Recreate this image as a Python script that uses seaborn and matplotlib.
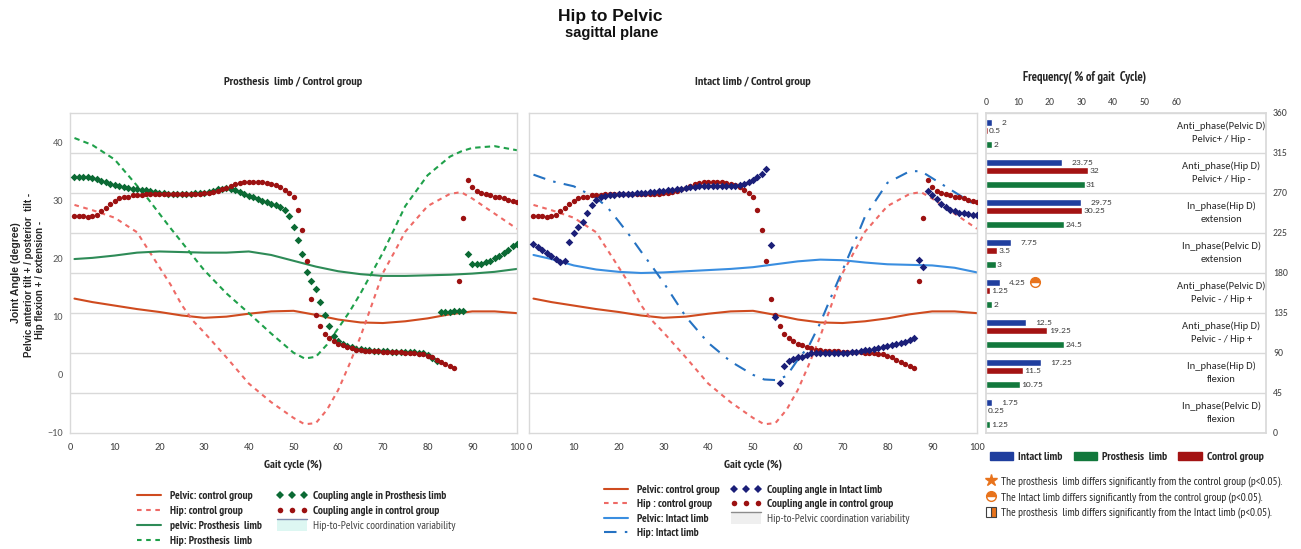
import numpy as np
import matplotlib
matplotlib.use("Agg")
import matplotlib.pyplot as plt
from matplotlib import font_manager
from matplotlib.lines import Line2D
from matplotlib.patches import Patch, Rectangle
from matplotlib.legend_handler import HandlerPatch
from matplotlib.ticker import FixedLocator
import seaborn as sns

# ---------------- data ----------------
# joint angles (degree) vs gait cycle (%)
pelvic_x = [1, 5, 10, 15, 20, 25, 30, 35, 40, 45, 50, 55, 60, 65, 70, 75, 80, 85, 90, 95, 100]
pelvic_control = [13.1, 12.5, 11.9, 11.3, 10.8, 10.2, 9.8, 10.0, 10.5, 10.9, 11.0, 10.3, 9.5, 9.0,
                  8.9, 9.2, 9.7, 10.4, 10.9, 10.9, 10.6]
pelvic_prosthesis = [19.9, 20.1, 20.5, 21.0, 21.2, 21.1, 21.0, 21.0, 21.2, 20.6, 19.6, 18.6, 17.8, 17.3,
                     17.0, 17.0, 17.1, 17.2, 17.4, 17.7, 18.2]
pelvic_intact = [20.6, 19.9, 18.8, 18.1, 17.7, 17.5, 17.6, 17.8, 18.0, 18.2, 18.5, 19.0, 19.5, 19.8,
                 19.7, 19.3, 19.0, 18.9, 18.8, 18.4, 17.6]

hip_x = [1, 5, 10, 15, 17.5, 20, 22.5, 25, 27.5, 30, 35, 40, 45, 50, 52.5, 55, 57.5, 60, 62.5, 65,
         67.5, 70, 72.5, 75, 80, 85, 87.5, 90, 95, 100]
hip_control = [29.2, 28.3, 27.0, 24.5, 21.5, 18.5, 15.5, 12.0, 9.3, 7.3, 3.0, -1.5, -4.7, -7.4, -8.5,
               -8.3, -6.0, -2.6, 1.8, 6.6, 12.0, 17.5, 21.0, 24.6, 29.0, 31.1, 31.4, 30.3, 27.7, 25.1]
hip_prosthesis = [40.7, 39.5, 37.0, 32.5, 30.2, 27.7, 25.2, 22.8, 20.4, 18.0, 14.0, 10.6, 7.1, 3.8, 2.8,
                  3.1, 5.2, 8.0, 10.8, 14.0, 17.5, 21.0, 25.0, 29.0, 34.3, 37.5, 38.4, 39.0, 39.3, 38.6]
hip_intact = [34.4, 33.3, 32.4, 30.4, 28.8, 26.4, 23.9, 21.2, 18.6, 15.9, 10.0, 5.5, 2.3, 0.0, -0.8,
              -0.9, -0.2, 2.6, 5.0, 8.9, 13.5, 18.0, 22.5, 27.2, 33.0, 35.0, 35.0, 33.8, 31.4, 29.0]

# coupling angles (0-360 deg), one value per % of gait cycle
cycle_pct = list(range(1, 101))
coupling_control = [
    244.5, 244.5, 244, 243.4, 244, 245.6, 249.4, 253, 258, 261.4,
    264, 265.5, 266, 267.4, 267.8, 268, 268.5, 268.6, 268.6, 268.6,
    268.6, 268.6, 268.6, 268.6, 268.6, 268.6, 268.8, 269, 269.3, 269.6,
    270, 271, 272.6, 274.5, 276, 278, 280, 281, 282, 282.4,
    282.8, 282.4, 282, 281, 280, 278.6, 276.4, 273.8, 270, 265,
    250.5, 228.8, 193.5, 150.8, 133, 120.8, 111.8, 107, 103, 100.5,
    98.6, 96.8, 95.3, 93.8, 93, 92.6, 92.3, 92, 91.8, 91.6,
    91.4, 91.2, 91, 90.8, 90.5, 90.2, 90, 89, 88.5, 87,
    85, 82.5, 80, 77.6, 75, 73, 170.6, 241.9, 285, 276.4,
    272.6, 270, 268.5, 267.4, 266, 265, 264, 262.5, 261.4, 260]
coupling_prosthesis = [
    288, 288, 288, 288, 287, 286, 284, 282, 280.5, 279.4,
    278, 277, 276, 275, 274.5, 273.8, 273, 272, 271, 270,
    269.5, 269, 269, 269, 269, 269, 269, 269.5, 270, 270.5,
    271, 272.5, 274, 275, 275.6, 275, 273.5, 271.5, 269, 267,
    265, 263, 261, 259.5, 258, 256.5, 254.6, 250.5, 243.8, 231.8,
    216.8, 201, 181.5, 171, 161.6, 147, 133, 120.8, 109.5, 104,
    100, 98, 96.5, 95, 94, 93.5, 93, 92.5, 92.2, 92,
    91.8, 91.6, 91.4, 91.2, 91, 90.8, 90.6, 90.3, 90, 88,
    84, 80.5, 136.5, 136.5, 136.5, 136.8, 137, 137, 201.8, 190.5,
    190.5, 190.5, 192, 194, 196.5, 199.5, 203, 206, 210, 213]
coupling_intact = [
    212.6, 209, 206, 203, 199, 195.8, 192.8, 194, 215, 225,
    231.4, 237.4, 247.5, 256.5, 261.8, 265, 266.6, 267.8, 268.2, 268.5,
    268.8, 269.1, 269.4, 269.7, 270, 270.5, 271, 271.5, 272, 272.6,
    273.2, 273.8, 274.4, 275, 275.6, 276.2, 276.8, 277.4, 278, 277.5,
    277.5, 277.5, 277.5, 277.5, 277.5, 278, 278.6, 280.5, 282, 285,
    288, 291, 297, 211.5, 130.5, 56, 75, 80.6, 83.6, 85.5,
    86, 88, 89.5, 90.5, 90.5, 90.5, 90.3, 90, 90, 90,
    90.2, 90.8, 91.5, 92.2, 93, 93.8, 94.5, 95.3, 96.4, 97.5,
    98.8, 100, 101, 102, 105, 107, 195, 186.8, 272.6, 268,
    263, 258, 254, 251, 249.4, 248, 247, 246.4, 245, 245]

# frequency (% of gait cycle) per coordination pattern, top to bottom (360 -> 0)
phase_labels = ["Anti_phase(Pelvic D)\nPelvic+ / Hip -", "Anti_phase(Hip D)\nPelvic+ / Hip -",
                "In_phase(Hip D)\nextension", "In_phase(Pelvic D)\nextension",
                "Anti_phase(Pelvic D)\nPelvic - / Hip +", "Anti_phase(Hip D)\nPelvic - / Hip +",
                "In_phase(Hip D)\nflexion", "In_phase(Pelvic D)\nflexion"]
freq_intact = [2, 23.75, 29.75, 7.75, 4.25, 12.5, 17.25, 1.75]
freq_control = [0.5, 32, 30.25, 3.5, 1.25, 19.25, 11.5, 0.25]
freq_prosthesis = [2, 31, 24.5, 3, 2, 24.5, 10.75, 1.25]
sig_intact_vs_control = [4]   # pattern marked with the half circle

# ---------------- style ----------------
C_PELVIC_CTRL = "#CF4B1F"
C_HIP_CTRL = "#EE6A66"
C_PELVIC_PROS = "#2E8B57"
C_HIP_PROS = "#1FA04A"
C_PELVIC_INT = "#3A8EE0"
C_HIP_INT = "#2572C2"
C_DOT_CTRL = "#9C1111"
C_DOT_PROS = "#0B6A34"
C_DOT_INT = "#1B1F78"
C_BAR_INT = "#1F3E9E"
C_BAR_CTRL = "#A31313"
C_BAR_PROS = "#12783C"
C_SIG = "#E8731C"
GRID = "#d9d9d9"
TXT = "#262626"

available = {f.name for f in font_manager.fontManager.ttflist}


def pick(*names):
    return next((n for n in names if n in available), 'DejaVu Sans')


COND = pick('PT Sans Narrow', 'Fira Sans Condensed', 'Archivo Narrow', 'Roboto Condensed',
            'Liberation Sans')
BODY = pick('Carlito', 'Liberation Sans')
ARIAL = pick('Liberation Sans', 'Arimo')

sns.set_theme(style="white")
plt.rcParams['font.family'] = [BODY, 'DejaVu Sans']
CF = [COND, 'DejaVu Sans']
AF = [ARIAL, 'DejaVu Sans']

W, H = 1301, 549
fig = plt.figure(figsize=(W / 100, H / 100), dpi=100)


def box(l, t, r, b):
    return [l / W, 1 - b / H, (r - l) / W, (b - t) / H]


def gait_panel(rect, title, show_y):
    ax = fig.add_axes(rect)
    ax.set_xlim(0, 100)
    ax.set_ylim(-10, 45)
    ax.set_xticks(range(0, 101, 10))
    ax.set_yticks(range(-10, 41, 10))
    # grid follows the 45-degree steps of the coupling-angle axis
    ax.yaxis.set_minor_locator(FixedLocator(np.linspace(-10, 45, 9)[1:-1]))
    ax.grid(False)
    ax.grid(True, which='minor', axis='y', color=GRID, lw=1)
    ax.tick_params(axis='y', which='both', length=0, labelsize=7.5, labelcolor='#595959', pad=5,
                   labelleft=show_y)
    ax.tick_params(axis='x', length=3, direction='in', color='#bfbfbf', labelsize=7.5,
                   labelcolor='#404040', pad=7)
    for s in ax.spines.values():
        s.set_color(GRID)
        s.set_linewidth(1)
    ax.set_xlabel('Gait cycle (%)', fontsize=8.6, fontweight='bold', color=TXT, labelpad=5,
                  family=CF)
    ax.set_ylabel('')
    fig.text((rect[0] + rect[2] / 2), 1 - 82 / H, title, ha='center', va='center',
             fontsize=8.8, fontweight='bold', color=TXT, family=CF)
    ax2 = ax.twinx()
    ax2.set_ylim(0, 360)
    ax2.set_yticks([])
    for s in ax2.spines.values():
        s.set_visible(False)
    return ax, ax2


def lines(ax, x, y, color, ls):
    sns.lineplot(x=x, y=y, ax=ax, color=color, linestyle=ls, lw=1.5)


def dots(ax, y, color, marker):
    sns.scatterplot(x=cycle_pct, y=y, ax=ax, color=color, marker=marker, s=15,
                    linewidth=0, zorder=3)


DASH = (0, (2.2, 2.2))
DASHDOT = (0, (6, 4, 1.2, 4))

# ---- left panel: prosthesis limb ----
ax_l, ax_l2 = gait_panel(box(70, 113, 517, 433), 'Prosthesis  limb / Control group', True)
lines(ax_l, pelvic_x, pelvic_control, C_PELVIC_CTRL, '-')
lines(ax_l, hip_x, hip_control, C_HIP_CTRL, DASH)
lines(ax_l, pelvic_x, pelvic_prosthesis, C_PELVIC_PROS, '-')
lines(ax_l, hip_x, hip_prosthesis, C_HIP_PROS, (0, (2.6, 2)))
dots(ax_l2, coupling_prosthesis, C_DOT_PROS, 'D')
dots(ax_l2, coupling_control, C_DOT_CTRL, 'o')

# ---- middle panel: intact limb ----
ax_m, ax_m2 = gait_panel(box(529, 113, 977, 433), 'Intact limb / Control group', False)
lines(ax_m, pelvic_x, pelvic_control, C_PELVIC_CTRL, '-')
lines(ax_m, hip_x, hip_control, C_HIP_CTRL, DASH)
lines(ax_m, pelvic_x, pelvic_intact, C_PELVIC_INT, '-')
lines(ax_m, hip_x, hip_intact, C_HIP_INT, DASHDOT)
dots(ax_m2, coupling_control, C_DOT_CTRL, 'o')
dots(ax_m2, coupling_intact, C_DOT_INT, 'D')

# y label of left panel
fig.text(16 / W, 1 - 273 / H, 'Joint Angle (degree)', rotation=90, ha='center', va='center',
         fontsize=7.6, fontweight='bold', color=TXT, family=AF)
fig.text(29 / W, 1 - 275 / H, 'Pelvic anterior tilt + / posterior  tilt -', rotation=90,
         ha='center', va='center', fontsize=7, fontweight='bold', color=TXT, family=AF)
fig.text(40 / W, 1 - 280 / H, 'Hip flexion + / extension -', rotation=90,
         ha='center', va='center', fontsize=7, fontweight='bold', color=TXT, family=AF)

# ---- right panel: frequency bars ----
ax_b = fig.add_axes(box(986, 113, 1266, 433))
ax_b.set_xlim(0, 88)
ax_b.set_ylim(0, 360)
band = 45
tops = [360 - band * i for i in range(len(phase_labels))]
bar_h = 7.5
y_int = [t - 10.5 for t in tops]
y_ctrl = [t - 19.9 for t in tops]
y_pros = [t - 35.6 for t in tops]
b1 = ax_b.barh(y_int, freq_intact, height=bar_h, color=C_BAR_INT)
b2 = ax_b.barh(y_ctrl, freq_control, height=bar_h, color=C_BAR_CTRL)
b3 = ax_b.barh(y_pros, freq_prosthesis, height=bar_h, color=C_BAR_PROS)
fmt = lambda v: f"{v:g}"
ax_b.bar_label(b1, labels=[fmt(v) for v in freq_intact], padding=7, fontsize=6.8, color='#404040')
ax_b.bar_label(b2, labels=[fmt(v) for v in freq_control], padding=1, fontsize=6.8, color='#404040')
ax_b.bar_label(b3, labels=[fmt(v) for v in freq_prosthesis], padding=1, fontsize=6.8,
               color='#404040')
for i in sig_intact_vs_control:
    ax_b.plot(freq_intact[i] + 11, y_int[i], marker='o', fillstyle='top', ms=7,
              markerfacecolor=C_SIG, markerfacecoloralt='white', markeredgecolor=C_SIG, mew=1)
for t, lab in zip(tops, phase_labels):
    ax_b.text(74, t - band / 2, lab, ha='center', va='center', fontsize=7.6,
              color=TXT, linespacing=1.6)

ax_b.xaxis.tick_top()
ax_b.set_xticks(range(0, 61, 10))
ax_b.xaxis.set_minor_locator(FixedLocator([40, 60]))
ax_b.yaxis.tick_right()
ax_b.set_yticks(range(0, 361, 45))
ax_b.grid(False)
ax_b.grid(True, axis='y', which='major', color=GRID, lw=1)
ax_b.grid(True, axis='x', which='minor', color=GRID, lw=1)
ax_b.tick_params(axis='both', which='both', length=0, labelsize=7, labelcolor='#404040')
ax_b.tick_params(axis='x', pad=4)
ax_b.tick_params(axis='y', pad=5)
for s in ax_b.spines.values():
    s.set_color(GRID)
fig.text(1085 / W, 1 - 78 / H, 'Frequency( % of gait  Cycle)', ha='center', va='center',
         fontsize=9, fontweight='bold', color=TXT, family=CF)

# ---- titles ----
fig.text(610 / W, 1 - 16 / H, 'Hip to Pelvic', ha='center', va='center', fontsize=12.5,
         fontweight='bold', color='#111111', family=AF)
fig.text(612 / W, 1 - 33 / H, 'sagittal plane', ha='center', va='center', fontsize=10.5,
         fontweight='bold', color='#111111', family=AF)


# ---- legends ----
class TopLinePatch(HandlerPatch):
    # filled box with a thin line along its top edge (variability band key)
    def create_artists(self, legend, orig, xd, yd, w, h, fs, trans):
        y0, hh = -yd - 0.25 * h, 1.45 * h
        rect = Rectangle((-xd, y0), w, hh, facecolor=orig.get_facecolor(), edgecolor='none',
                         transform=trans)
        top = Line2D([-xd, -xd + w], [y0 + hh, y0 + hh], color=orig.get_edgecolor(), lw=1,
                     transform=trans)
        return [rect, top]


leg_kw = dict(loc='upper left', frameon=False, prop={'family': CF, 'size': 8.1},
              handlelength=2.7, handletextpad=0.5, borderpad=0, borderaxespad=0, numpoints=3,
              handler_map={Patch: TopLinePatch()})


def add_legend(handles, labels, x, y, spacing, plain_last=False):
    leg = fig.legend(handles, labels, bbox_to_anchor=(x / W, 1 - y / H), labelspacing=spacing,
                     **leg_kw)
    for t in leg.get_texts():
        t.set_fontweight('bold')
        t.set_color(TXT)
    if plain_last:
        leg.get_texts()[-1].set_fontweight('normal')
        leg.get_texts()[-1].set_color('#404040')
    return leg


def ln(c, ls):
    return Line2D([], [], color=c, lw=1.5, linestyle=ls)


def mk(c, m):
    return Line2D([], [], color=c, marker=m, ls='none', ms=4, mew=0)


add_legend([ln(C_PELVIC_CTRL, '-'), ln(C_HIP_CTRL, DASH), ln(C_PELVIC_PROS, '-'),
            ln(C_HIP_PROS, DASH)],
           ['Pelvic: control group', 'Hip: control group', 'pelvic: Prosthesis  limb',
            'Hip: Prosthesis  limb'], 134, 491, 0.43)
add_legend([mk(C_DOT_PROS, 'D'), mk(C_DOT_CTRL, 'o'),
            Patch(facecolor='#DDF7F2', edgecolor='#7F8CB0')],
           ['Coupling angle in Prosthesis limb', 'Coupling angle in control group',
            'Hip-to-Pelvic coordination variability'], 277, 491, 0.43, plain_last=True)
add_legend([ln(C_PELVIC_CTRL, '-'), ln(C_HIP_CTRL, DASH), ln(C_PELVIC_INT, '-'),
            ln(C_HIP_INT, DASHDOT)],
           ['Pelvic: control group', 'Hip : control group', 'Pelvic: Intact limb',
            'Hip: Intact limb'], 601, 485, 0.38)
add_legend([mk(C_DOT_INT, 'D'), mk(C_DOT_CTRL, 'o'),
            Patch(facecolor='#EFEFEF', edgecolor='#8C8C8C')],
           ['Coupling angle in Intact limb', 'Coupling angle in control group',
            'Hip-to-Pelvic coordination variability'], 731, 485, 0.38, plain_last=True)

bar_leg = fig.legend([Patch(color=C_BAR_INT), Patch(color=C_BAR_PROS), Patch(color=C_BAR_CTRL)],
                     ['Intact limb', 'Prosthesis  limb', 'Control group'],
                     loc='upper left', bbox_to_anchor=(990 / W, 1 - 452 / H), ncol=3,
                     frameon=False, prop={'family': CF, 'size': 8.4}, handlelength=2.0,
                     handleheight=0.6, handletextpad=0.43, columnspacing=0.95, borderpad=0,
                     borderaxespad=0)
for t in bar_leg.get_texts():
    t.set_fontweight('bold')
    t.set_color(TXT)

sig_handles = [Line2D([], [], ls='none', marker='*', ms=9, color=C_SIG),
               Line2D([], [], ls='none', marker='o', ms=7, fillstyle='top', markerfacecolor=C_SIG,
                      markerfacecoloralt='white', markeredgecolor=C_SIG),
               Line2D([], [], ls='none', marker='s', ms=7, fillstyle='right',
                      markerfacecolor=C_SIG, markerfacecoloralt='white', markeredgecolor='#404040',
                      mew=0.8)]
sig_leg = fig.legend(sig_handles,
                     ['The prosthesis  limb differs significantly from the control group (p<0.05).',
                      'The Intact limb differs significantly from the control group (p<0.05).',
                      'The prosthesis  limb differs significantly from the Intact limb (p<0.05).'],
                     loc='upper left', bbox_to_anchor=(985 / W, 1 - 476 / H), frameon=False,
                     prop={'family': CF, 'size': 8.1}, handlelength=1.0, handletextpad=0.45,
                     labelspacing=0.42, borderpad=0, borderaxespad=0, numpoints=1)
for t in sig_leg.get_texts():
    t.set_color(TXT)

fig.savefig('out.png', dpi=100)
